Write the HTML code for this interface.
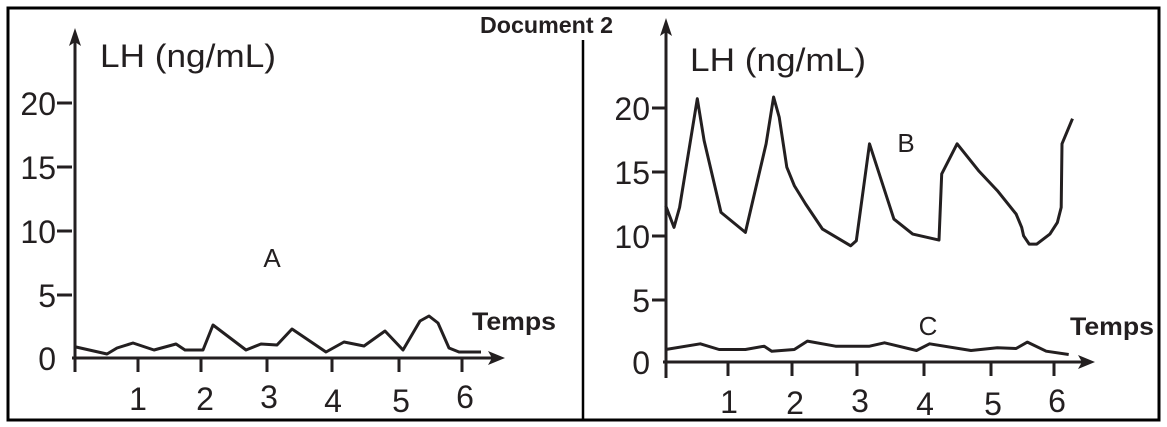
<!DOCTYPE html>
<html><head><meta charset="utf-8"><style>
html,body{margin:0;padding:0;background:#fff;}
svg{display:block;}
text{font-family:"Liberation Sans",Arial,sans-serif;fill:#231f20;}
</style></head><body>
<svg width="1167" height="427" viewBox="0 0 1167 427">
<rect x="0" y="0" width="1167" height="427" fill="#fff"/>
<rect x="8" y="8" width="1151" height="412" fill="none" stroke="#000" stroke-width="3"/>
<line x1="583" y1="40" x2="583" y2="420" stroke="#000" stroke-width="2.5"/>
<text x="480" y="33" font-size="23" font-weight="bold" fill="#000" textLength="133" lengthAdjust="spacingAndGlyphs">Document 2</text>

<g stroke="#231f20" stroke-width="3" fill="none">
<line x1="75" y1="40" x2="75" y2="372"/>
<line x1="72" y1="358" x2="495" y2="358"/>
<line x1="57" y1="103" x2="72" y2="103"/><line x1="57" y1="167" x2="72" y2="167"/>
<line x1="57" y1="231" x2="72" y2="231"/><line x1="57" y1="295" x2="72" y2="295"/>
<line x1="138" y1="358" x2="138" y2="372"/><line x1="201" y1="358" x2="201" y2="372"/>
<line x1="267" y1="358" x2="267" y2="372"/><line x1="332" y1="358" x2="332" y2="372"/>
<line x1="399" y1="358" x2="399" y2="372"/><line x1="462" y1="358" x2="462" y2="372"/>
<line x1="666" y1="30" x2="666" y2="378"/>
<line x1="663" y1="362" x2="1085" y2="362"/>
<line x1="652" y1="108" x2="666" y2="108"/><line x1="652" y1="172" x2="666" y2="172"/>
<line x1="652" y1="236" x2="666" y2="236"/><line x1="652" y1="300" x2="666" y2="300"/>
<line x1="728" y1="362" x2="728" y2="376"/><line x1="792" y1="362" x2="792" y2="376"/>
<line x1="857" y1="362" x2="857" y2="376"/><line x1="924" y1="362" x2="924" y2="376"/>
<line x1="991" y1="362" x2="991" y2="376"/><line x1="1054" y1="362" x2="1054" y2="376"/>
</g>
<g fill="#231f20">
<polygon points="75,28 69,46 75,42 81,46"/>
<polygon points="505,358 488,351 492,358 488,365"/>
<polygon points="666,18 660,36 666,32 672,36"/>
<polygon points="1095,362 1078,355 1082,362 1078,369"/>
</g>

<g stroke="#231f20" stroke-width="3" fill="none" stroke-linejoin="round">
<polyline points="76,347 107,354 117,348 133,343 154,350 176,344 185,350 203,350 213,325 246,350 261,344 277,345 292,329 326,352 344,342 364,346 385,331 403,350 420,321 429,316 438,323 449,348 459,352 481,352"/>
<polyline points="665.7,205.7 674,227.4 679.6,207.4 697.3,98.7 704.1,140.5 721,212.4 745.4,232.4 766.1,143.8 773.6,97 779.2,117.1 786.8,167.2 794.3,185.6 805.6,204 822.5,229.1 850.7,245.8 856.3,240.8 869.5,143.8 893.9,219.1 912.7,234.1 939,240.1 941.7,173.9 957.1,143.8 978.5,170.6 997.3,190.6 1016.1,214 1021.7,227.4 1023.6,235.8 1029.2,244.1 1036.8,244.1 1049.9,234.1 1057.4,222.4 1061.2,207.4 1062,143.8 1072.5,118.7"/>
<polyline points="665.7,349.5 700.3,343.8 719.1,349.5 745.4,349.5 764.2,346.2 771.7,351.2 794.3,349.5 807.4,341.1 835.6,346.2 869.5,346.2 884.5,342.8 916.5,350.5 929.6,343.8 971,350.5 997.3,347.8 1016.1,348.5 1027.4,342.1 1046.2,351.2 1068.7,354.5"/>
</g>

<g font-size="32">
<text x="100" y="67" textLength="176" lengthAdjust="spacingAndGlyphs">LH (ng/mL)</text>
<text x="690" y="71" textLength="176" lengthAdjust="spacingAndGlyphs">LH (ng/mL)</text>
<text x="56" y="115" text-anchor="end">20</text>
<text x="56" y="179" text-anchor="end">15</text>
<text x="56" y="243" text-anchor="end">10</text>
<text x="56" y="307" text-anchor="end">5</text>
<text x="56" y="370" text-anchor="end">0</text>
<text x="650" y="120" text-anchor="end">20</text>
<text x="650" y="184" text-anchor="end">15</text>
<text x="650" y="248" text-anchor="end">10</text>
<text x="650" y="312" text-anchor="end">5</text>
<text x="650" y="374" text-anchor="end">0</text>
<text x="138" y="410" text-anchor="middle">1</text>
<text x="205" y="410" text-anchor="middle">2</text>
<text x="269" y="408" text-anchor="middle">3</text>
<text x="333" y="412" text-anchor="middle">4</text>
<text x="401" y="412" text-anchor="middle">5</text>
<text x="465" y="408" text-anchor="middle">6</text>
<text x="729" y="413" text-anchor="middle">1</text>
<text x="795" y="414" text-anchor="middle">2</text>
<text x="860" y="412" text-anchor="middle">3</text>
<text x="925" y="415" text-anchor="middle">4</text>
<text x="993" y="415" text-anchor="middle">5</text>
<text x="1057" y="412" text-anchor="middle">6</text>
</g>
<g font-size="26">
<text x="272" y="267" text-anchor="middle">A</text>
<text x="906" y="152" text-anchor="middle">B</text>
<text x="928" y="335" text-anchor="middle">C</text>
</g>
<text x="472" y="330" font-size="25" font-weight="bold" fill="#000" textLength="84" lengthAdjust="spacingAndGlyphs">Temps</text>
<text x="1070" y="335" font-size="25" font-weight="bold" fill="#000" textLength="84" lengthAdjust="spacingAndGlyphs">Temps</text>
</svg>
</body></html>
